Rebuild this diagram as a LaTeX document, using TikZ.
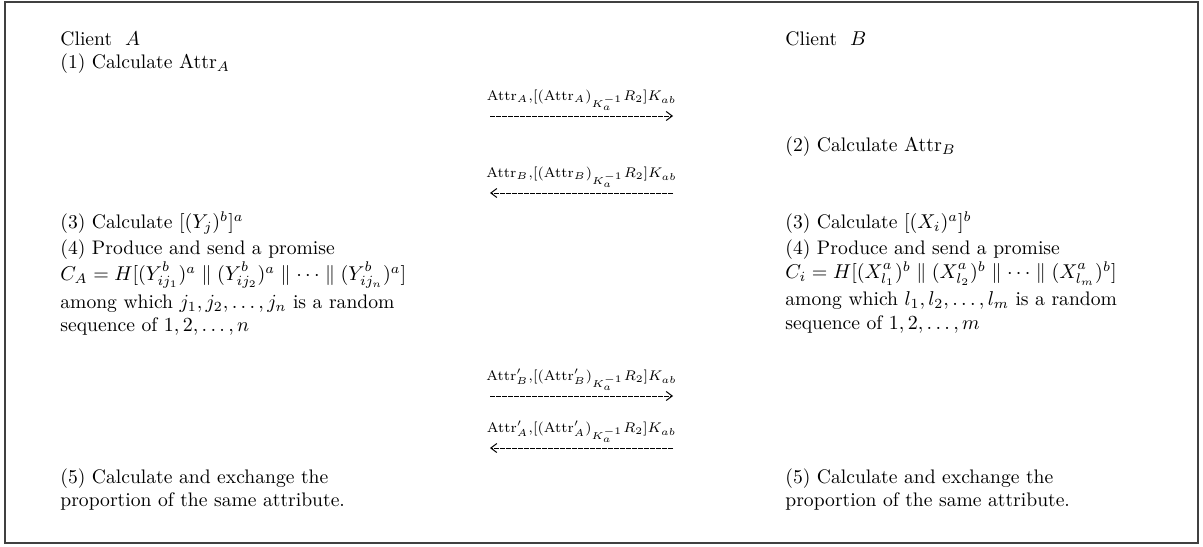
\documentclass[tikz,border=0pt]{standalone}
\usepackage{amsmath}
\usepackage{amssymb}
\usepackage{tikz}
\usetikzlibrary{
    arrows.meta,
    calc
}

\newcommand{\attr}{\mathrm{Attr}}
\newcommand{\upa}{\raisebox{1pt}{$\scriptstyle a$}}
\newcommand{\upb}{\raisebox{1pt}{$\scriptstyle b$}}

\begin{document}
\begin{tikzpicture}[x=0.5pt,y=-0.5pt,
    txt/.style={anchor=north west,inner sep=0pt,align=left,
        font=\fontsize{9.8}{11.75}\selectfont},
    msg/.style={dash pattern=on 2.4pt off 0.6pt,-{Straight Barb[length=3pt,width=4.5pt]},line width=0.5pt},
    lbl/.style={above,inner sep=2.5pt,font=\fontsize{6.6}{8}\selectfont}
]
\useasboundingbox (0,0) rectangle (1203,546);

% Frame
\draw[line width=0.8pt,black!75] (5,2) rectangle (1198,543);

% Client A side
\node[txt] (cliA) at (60,31) {Client\ \ $A$\\(1) Calculate $\attr_A$};
\node[txt] (stepA3) at (60,211) {(3) Calculate $[(Y_j)^b]^a$\\[1.5pt]
(4) Produce and send a promise\\
$C_A=H[(Y^{\upb}_{ij_1})^a\parallel(Y^{\upb}_{ij_2})^a\parallel\cdots\parallel(Y^{\upb}_{ij_n})^a]$\\[2pt]
among which $j_1,j_2,\ldots,j_n$ is a random\\
sequence of $1,2,\ldots,n$};
\node[txt] (stepA5) at (60,468) {(5) Calculate and exchange the\\proportion of the same attribute.};

% Client B side
\node[txt] (cliB) at (785,31) {Client\ \ $B$};
\node[txt] (stepB2) at (785,136) {(2) Calculate $\attr_B$};
\node[txt] (stepB3) at (785,211) {(3) Calculate $[(X_i)^a]^b$\\[1.5pt]
(4) Produce and send a promise\\
$C_i=H[(X^{\upa}_{l_1})^b\parallel(X^{\upa}_{l_2})^b\parallel\cdots\parallel(X^{\upa}_{l_m})^b]$\\[2pt]
among which $l_1,l_2,\ldots,l_m$ is a random\\
sequence of $1,2,\ldots,m$};
\node[txt] (stepB5) at (785,468) {(5) Calculate and exchange the\\proportion of the same attribute.};

% Message ends
\coordinate (m1l) at (490,116);
\coordinate (m1r) at (673,116);
\coordinate (m2l) at (490,193);
\coordinate (m2r) at (673,193);
\coordinate (m3l) at (490,396);
\coordinate (m3r) at (673,396);
\coordinate (m4l) at (490,448);
\coordinate (m4r) at (673,448);

% Messages
\draw[msg] (m1l) -- node[lbl] {$\attr_A{,}[(\attr_A)_{K_a^{-1}}R_2]K_{ab}$} (m1r);
\draw[msg] (m2r) -- node[lbl] {$\attr_B{,}[(\attr_B)_{K_a^{-1}}R_2]K_{ab}$} (m2l);
\draw[msg] (m3l) -- node[lbl] {$\attr'_B{,}[(\attr'_B)_{K_a^{-1}}R_2]K_{ab}$} (m3r);
\draw[msg] (m4r) -- node[lbl] {$\attr'_A{,}[(\attr'_A)_{K_a^{-1}}R_2]K_{ab}$} (m4l);

\end{tikzpicture}
\end{document}
